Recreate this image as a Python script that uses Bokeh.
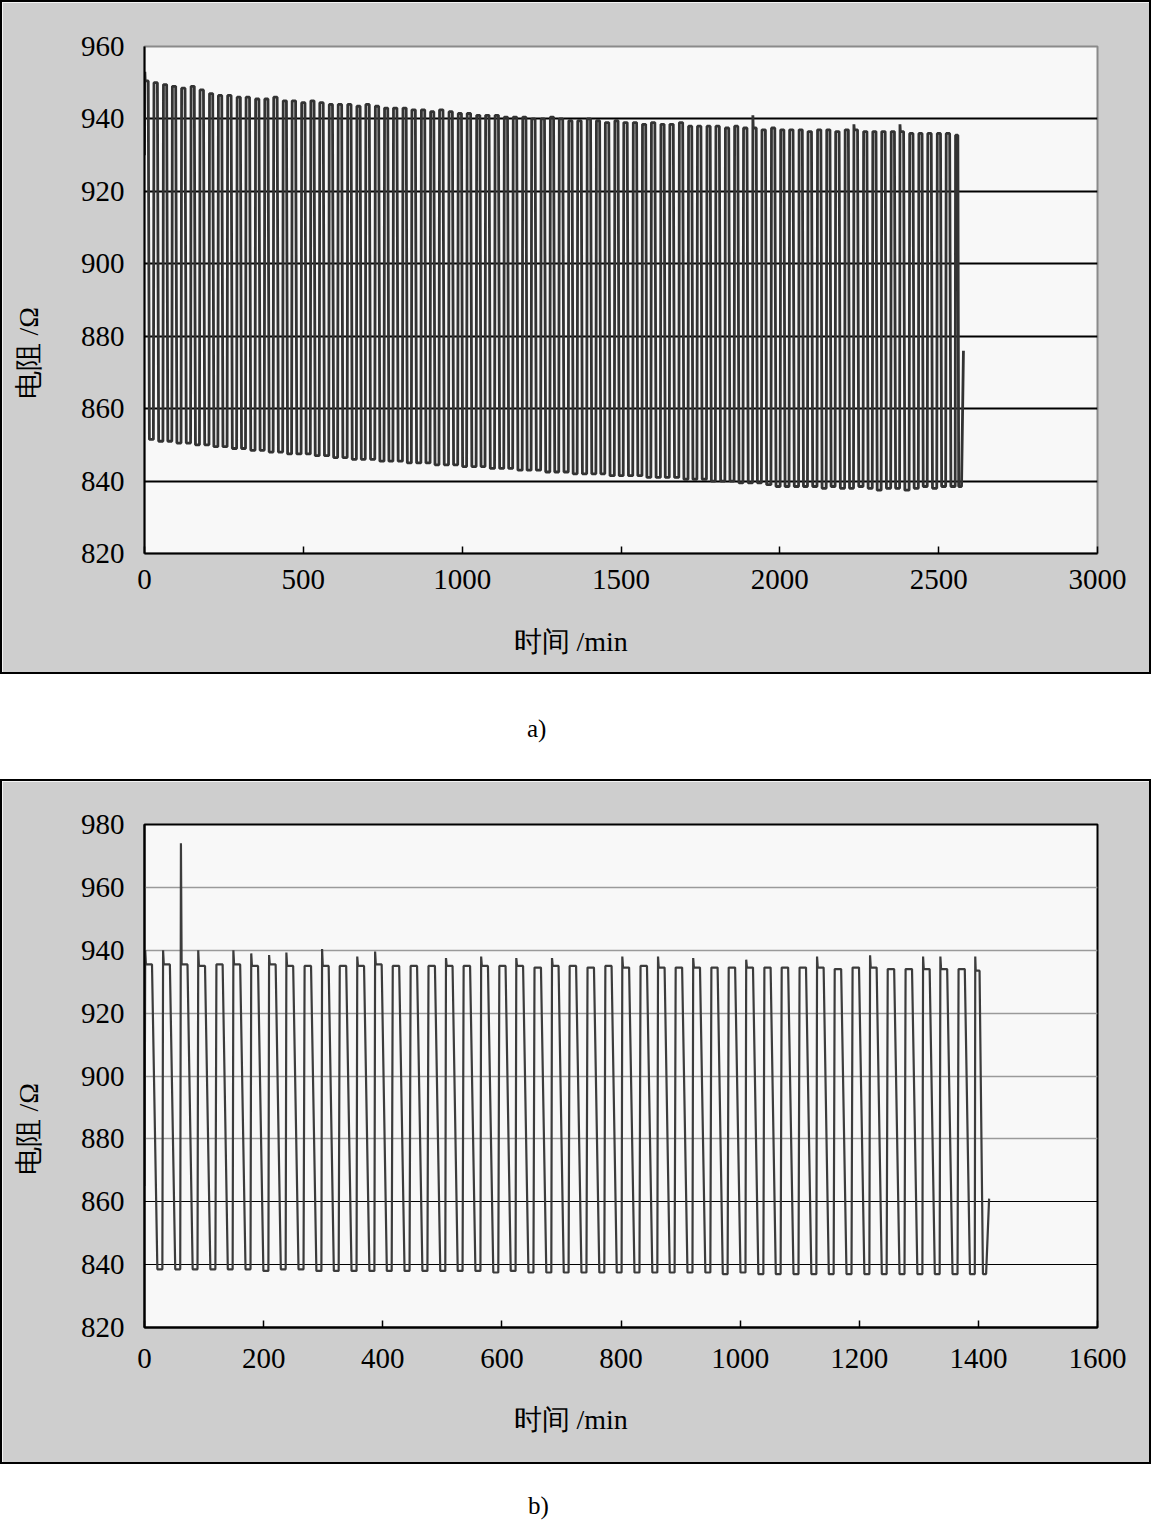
from bokeh.plotting import figure
from bokeh.models import Div, FixedTicker, Grid, Range1d, Title, LinearAxis
from bokeh.layouts import column
from bokeh.embed import file_html
from bokeh.resources import INLINE

# ---------------- data ----------------
# panel a): start times (min) of each resistance rise, plateau level, trough level (ohm)
a_rise_t = [0, 28, 58, 86, 115, 145, 173, 203, 231, 260,
            290, 318, 348, 377, 405, 435, 463, 493, 522, 550,
            580, 608, 638, 667, 695, 725, 754, 782, 812, 840,
            870, 899, 927, 957, 986, 1014, 1044, 1072, 1102, 1131,
            1159, 1189, 1217, 1247, 1276, 1304, 1334, 1362, 1392, 1421,
            1449, 1479, 1507, 1537, 1566, 1594, 1624, 1652, 1682, 1711,
            1739, 1769, 1797, 1827, 1856, 1884, 1914, 1942, 1972, 2001,
            2029, 2059, 2087, 2117, 2146, 2174, 2204, 2232, 2262, 2291,
            2319, 2349, 2377, 2407, 2436, 2464, 2494, 2522, 2552]
a_top = [950.5, 950, 949.5, 949, 948.5, 949, 948, 947, 946.5, 946.5,
         946, 946, 945.5, 945.5, 946, 945, 945, 944.5, 945, 944.5,
         944, 944, 944, 943.5, 944, 943.5, 943, 943, 943, 942.5,
         942.5, 942, 942.5, 942, 941.5, 941.5, 941, 941, 941, 940.5,
         940.5, 940.5, 940, 940, 940.5, 940, 939.5, 939.5, 940, 939.5,
         939, 939.5, 939, 939, 938.5, 939, 938.5, 938.5, 939, 938,
         938, 938, 938, 937.5, 938, 937.5, 937.5, 937, 937.5, 937,
         937, 937, 936.5, 937, 937, 936.5, 937, 937, 936.5, 936.5,
         936.5, 936.5, 936.5, 936, 936, 936, 936, 936, 935.5]
a_bottom = [851.5, 851, 851, 850.5, 850.5, 850, 850, 849.5, 849.5, 849,
            849, 848.5, 848.5, 848, 848, 847.5, 847.5, 847.5, 847, 847,
            846.5, 846.5, 846, 846, 846, 845.5, 845.5, 845.5, 845, 845,
            845, 844.5, 844.5, 844.5, 844, 844, 844, 843.5, 843.5, 843.5,
            843, 843, 843, 842.5, 842.5, 842.5, 842, 842, 842, 842,
            841.5, 841.5, 841.5, 841.5, 841, 841, 841, 841, 840.5, 840.5,
            840.5, 840, 840, 840, 839.5, 839.5, 839.5, 839, 838.5, 838.5,
            838.5, 838.5, 838.5, 838, 838.5, 838, 838, 838.5, 838, 837.5,
            838, 838, 837.5, 838, 838.5, 838, 838.5, 838.5, 838.5]
a_spike_t = [0, 1914, 2232, 2377]
a_spike_v = [953, 941, 938.5, 938.5]
a_start_v = 930
a_end_t = [2572, 2578]
a_end_v = 876

# panel b)
b_rise_t = [0, 30, 60, 89, 119, 148, 178, 208, 237, 267,
            297, 326, 356, 386, 415, 445, 475, 505, 534, 564,
            594, 623, 653, 683, 712, 742, 772, 801, 831, 861,
            890, 920, 950, 979, 1009, 1039, 1068, 1098, 1128, 1157,
            1187, 1217, 1246, 1276, 1306, 1335, 1365, 1394]
b_top = [935.5, 935.5, 935.5, 935.0, 935.5, 935.5, 935.0, 935.5, 935.0, 935.0,
         935.0, 935.0, 935.0, 935.5, 935.0, 935.0, 935.0, 935.0, 935.0, 935.0,
         935.0, 935.0, 934.5, 935.0, 935.0, 934.5, 935.0, 934.5, 935.0, 934.5,
         934.5, 934.5, 934.5, 934.5, 934.5, 934.5, 934.5, 934.5, 934.5, 934.0,
         934.5, 934.5, 934.0, 934.0, 934.0, 934.0, 934.0, 933.5]
b_bottom = [838.5, 838.5, 838.5, 838.5, 838.5, 838.5, 838.0, 838.5, 838.5, 838.0,
            838.0, 838.0, 838.0, 838.0, 838.0, 838.0, 838.0, 838.0, 838.0, 837.5,
            838.0, 837.5, 837.5, 837.5, 837.5, 837.5, 837.5, 837.5, 837.5, 837.5,
            837.5, 837.5, 837.0, 837.5, 837.0, 837.0, 837.0, 837.0, 837.0, 837.0,
            837.0, 837.0, 837.0, 837.0, 837.0, 837.0, 837.0, 837.0]
b_spike_t = [0, 30, 60, 89, 148, 178, 208, 237, 297, 356, 386, 505,
             564, 623, 683, 801, 861, 920, 1009, 1128, 1217, 1306, 1335, 1394]
b_spike_v = [940, 940, 974, 940, 940, 939, 938.5, 939.3, 940.4, 938, 939.6, 937.5,
             938, 937.5, 937.5, 938, 938, 937.5, 937, 938, 938.4, 938, 938, 938]
b_start_v = 865
b_end_t = [1413, 1418]
b_end_v = 861

# axes ticks
a_xticks = [0, 500, 1000, 1500, 2000, 2500, 3000]
a_yticks = [820, 840, 860, 880, 900, 920, 940, 960]
a_grid = [840, 860, 880, 900, 920, 940]
b_xticks = [0, 200, 400, 600, 800, 1000, 1200, 1400, 1600]
b_yticks = [820, 840, 860, 880, 900, 920, 940, 960, 980]
b_grid_gray = [880, 900, 920, 940, 960]
b_grid_dark = [840, 860]

x_title = "时间 /min"
y_title = "电阻 /Ω"

SERIF = "Liberation Serif"
GRAYBG = "#cecece"
PLOTBG = "#f8f8f8"


def wave(rise_t, top, bottom, spike_t, spike_v, start_v, end_t, end_v, plat, fall):
    spikes = dict(zip(spike_t, spike_v))
    xs, ys = [rise_t[0]], [start_v]
    n = len(rise_t)
    for i in range(n):
        t0 = rise_t[i]
        t1 = rise_t[i + 1] if i + 1 < n else end_t[0]
        P = t1 - t0
        if t0 in spikes:
            xs += [t0 + 0.04 * P, t0 + 0.08 * P]
            ys += [spikes[t0], top[i]]
        else:
            xs.append(t0 + 0.06 * P)
            ys.append(top[i])
        xs += [t0 + plat * P, t0 + fall * P, t1]
        ys += [top[i], bottom[i], bottom[i]]
    xs.append(end_t[1])
    ys.append(end_v)
    return xs, ys


def spacer_axis(size, at):
    # a blank axis (one invisible tick, empty label, no line): it only reserves room
    ax = LinearAxis(ticker=FixedTicker(ticks=[at]), axis_line_color=None,
                    major_tick_line_color=GRAYBG, minor_tick_line_color=None,
                    major_tick_in=0, major_tick_out=size, major_label_standoff=0,
                    major_label_overrides={at: ""}, major_label_text_font_size="1px",
                    major_label_text_color=GRAYBG)
    return ax


def make_panel(height, top_b, bottom_b, xr, yr, xticks, yticks, outline,
               x_standoff, x_space, x_offset, y_space, y_offset):
    p = figure(width=1147, height=height, x_range=Range1d(*xr), y_range=Range1d(*yr),
               output_backend="svg", toolbar_location=None,
               min_border_left=142, min_border_right=52,
               min_border_top=top_b, min_border_bottom=bottom_b,
               background_fill_color=PLOTBG, border_fill_color=GRAYBG,
               styles={"outline": "2px solid black", "margin": "2px"})
    p.outline_line_color = outline
    p.outline_line_width = 2
    p.xgrid.visible = False
    p.ygrid.visible = False
    p.xaxis.ticker = FixedTicker(ticks=xticks)
    p.yaxis.ticker = FixedTicker(ticks=yticks)
    for ax in (p.xaxis[0], p.yaxis[0]):
        ax.axis_line_color = "black"
        ax.axis_line_width = 2
        ax.major_label_text_font = SERIF
        ax.major_label_text_font_size = "29px"
        ax.major_label_text_color = "black"
        ax.minor_tick_line_color = None
        ax.major_tick_line_color = "black"
        ax.major_tick_line_width = 1.5
        ax.major_tick_out = 0
    p.xaxis.major_tick_in = 7
    p.yaxis.major_tick_in = 0
    p.xaxis.major_label_standoff = x_standoff
    p.yaxis.major_label_standoff = 20
    p.add_layout(spacer_axis(x_space, xticks[0]), "below")
    p.add_layout(spacer_axis(y_space, yticks[0]), "left")
    p.add_layout(Title(text=x_title, align="left", offset=x_offset, vertical_align="middle",
                       standoff=0, text_font=SERIF, text_font_size="28px",
                       text_font_style="normal", text_color="black"), "below")
    p.add_layout(Title(text=y_title, align="left", offset=y_offset, vertical_align="middle",
                       standoff=0, text_font=SERIF, text_font_size="28px",
                       text_font_style="normal", text_color="black"), "left")
    return p


# ---------------- panel a ----------------
pa = make_panel(670, 44, 119, (0, 3000), (820, 960), a_xticks, a_yticks, "#8a8a8a",
                16, 33, 369, 33, 155)
pa.add_layout(Grid(dimension=1, ticker=FixedTicker(ticks=a_grid),
                   grid_line_color="black", grid_line_width=2))
ax_, ay_ = wave(a_rise_t, a_top, a_bottom, a_spike_t, a_spike_v, a_start_v,
                a_end_t, a_end_v, 0.42, 0.55)
pa.line(ax_, ay_, line_color="#333333", line_width=2.8)

# ---------------- panel b ----------------
pb = make_panel(681, 43, 135, (0, 1600), (820, 980), b_xticks, b_yticks, "black",
                21, 32, 369, 33, 153)
pb.add_layout(Grid(dimension=1, ticker=FixedTicker(ticks=b_grid_gray),
                   grid_line_color="#9a9a9a", grid_line_width=1.5))
pb.add_layout(Grid(dimension=1, ticker=FixedTicker(ticks=b_grid_dark),
                   grid_line_color="black", grid_line_width=1.2))
bx_, by_ = wave(b_rise_t, b_top, b_bottom, b_spike_t, b_spike_v, b_start_v,
                b_end_t, b_end_v, 0.42, 0.72)
pb.line(bx_, by_, line_color="#3c3c3c", line_width=2.2)

cap_style = "font-family:'Liberation Serif',serif;font-size:25px;line-height:26px;color:black;"
cap_a = Div(text=f'<div style="margin-left:527px;padding-top:42px;{cap_style}">a)</div>',
            width=1151, height=105, margin=0)
cap_b = Div(text=f'<div style="margin-left:528px;padding-top:29px;{cap_style}">b)</div>',
            width=1151, height=59, margin=0)

page = column(pa, cap_a, pb, cap_b, spacing=0)

open("out.html", "w").write(file_html(page, INLINE))
